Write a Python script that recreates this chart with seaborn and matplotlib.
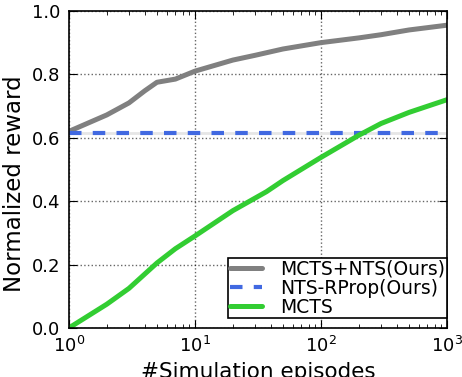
import numpy as np
import pandas as pd
import matplotlib
matplotlib.use("Agg")
import matplotlib.pyplot as plt
import seaborn as sns

# --- data ---
nts_x = [1, 2, 3, 4, 5, 7, 10, 20, 30, 50, 100, 200, 300, 500, 1000]
nts_y = [0.62, 0.672, 0.71, 0.748, 0.775, 0.785, 0.81, 0.845, 0.86, 0.88, 0.90, 0.915, 0.925, 0.94, 0.955]

rprop_x = [1, 1000]
rprop_y = [0.615, 0.615]

mcts_x = [1, 2, 3, 5, 7, 10, 20, 37, 50, 100, 200, 300, 500, 1000]
mcts_y = [0.0, 0.075, 0.125, 0.205, 0.25, 0.29, 0.37, 0.43, 0.465, 0.538, 0.608, 0.645, 0.68, 0.72]

sns.set_style("ticks")
plt.rcParams["font.family"] = ["DejaVu Sans"]
plt.rcParams["xtick.direction"] = "in"
plt.rcParams["ytick.direction"] = "in"
plt.rcParams["text.color"] = "black"
plt.rcParams["axes.labelcolor"] = "black"
plt.rcParams["xtick.color"] = "black"
plt.rcParams["ytick.color"] = "black"

fig = plt.figure(figsize=(4.62, 3.77), dpi=100)
ax = fig.add_axes([0.149, 0.130, 0.8185, 0.841])

sns.lineplot(x=nts_x, y=nts_y, ax=ax, color="gray", lw=3.6, label="MCTS+NTS(Ours)")
# faint line under the dashes
sns.lineplot(x=rprop_x, y=rprop_y, ax=ax, color="#e6e6e6", lw=2, legend=False)
sns.lineplot(x=rprop_x, y=rprop_y, ax=ax, color="royalblue", lw=3, label="NTS-RProp(Ours)")
ax.lines[-1].set_dashes([3.0, 2.7])
sns.lineplot(x=mcts_x, y=mcts_y, ax=ax, color="limegreen", lw=3.6, label="MCTS")

ax.set_xscale("log")
ax.set_xlim(1, 1000)
ax.set_ylim(0, 1)
ax.set_yticks([0, 0.2, 0.4, 0.6, 0.8, 1.0])
ax.set_yticklabels(["0.0", "0.2", "0.4", "0.6", "0.8", "1.0"])
ax.tick_params(which="both", top=True, right=True, labelsize=13, pad=6)
ax.tick_params(which="major", length=6)
ax.tick_params(which="minor", length=3)
ax.grid(True, which="major", ls=":", color="black", alpha=0.6, lw=1)
for s in ax.spines.values():
    s.set_linewidth(1.2)
    s.set_color("black")

ax.set_xlabel("#Simulation episodes", fontsize=15.5)
ax.set_ylabel("Normalized reward", fontsize=16.5)
ax.yaxis.set_label_coords(-0.114, 0.455)

leg = ax.legend(loc="lower right", bbox_to_anchor=(1.0, 0.03), fontsize=13.5,
                handlelength=1.7, handletextpad=1.0, borderaxespad=0,
                labelspacing=0.0, fancybox=False, framealpha=1, borderpad=0.08)
leg.get_frame().set_edgecolor("black")
leg.get_frame().set_linewidth(1.2)

fig.savefig("out.png", dpi=100)
